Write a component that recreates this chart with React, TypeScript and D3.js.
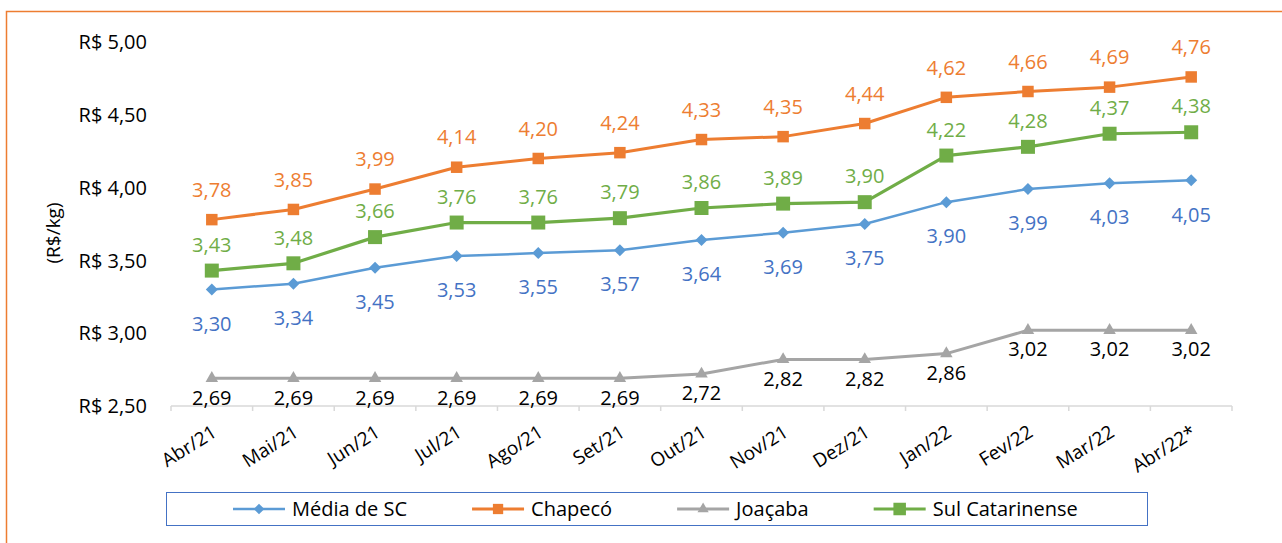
import React, { Component } from 'react'
import * as d3 from 'd3'

const months = ['Abr/21', 'Mai/21', 'Jun/21', 'Jul/21', 'Ago/21', 'Set/21', 'Out/21', 'Nov/21', 'Dez/21', 'Jan/22', 'Fev/22', 'Mar/22', 'Abr/22*']
const mediaSC = [3.30, 3.34, 3.45, 3.53, 3.55, 3.57, 3.64, 3.69, 3.75, 3.90, 3.99, 4.03, 4.05]
const chapeco = [3.78, 3.85, 3.99, 4.14, 4.20, 4.24, 4.33, 4.35, 4.44, 4.62, 4.66, 4.69, 4.76]
const joacaba = [2.69, 2.69, 2.69, 2.69, 2.69, 2.69, 2.72, 2.82, 2.82, 2.86, 3.02, 3.02, 3.02]
const sulCatarinense = [3.43, 3.48, 3.66, 3.76, 3.76, 3.79, 3.86, 3.89, 3.90, 4.22, 4.28, 4.37, 4.38]
const yTicks = [2.5, 3, 3.5, 4, 4.5, 5]

const FONT = "'Open Sans', sans-serif"

// losango "quadrado" como no Excel (o d3.symbolDiamond é mais estreito)
const diamond = {
  draw(ctx: any, size: number) {
    const r = Math.sqrt(size / 2)
    ctx.moveTo(0, -r)
    ctx.lineTo(r, 0)
    ctx.lineTo(0, r)
    ctx.lineTo(-r, 0)
    ctx.closePath()
  }
}

const series = [
  { name: 'Média de SC', values: mediaSC, color: '#5B9BD5', labelColor: '#4472C4', symbol: diamond, size: 72, width: 2.5, labelDy: 34 },
  { name: 'Chapecó', values: chapeco, color: '#ED7D31', labelColor: '#ED7D31', symbol: d3.symbolSquare, size: 132, width: 3, labelDy: -30 },
  { name: 'Joaçaba', values: joacaba, color: '#A5A5A5', labelColor: '#000000', symbol: d3.symbolTriangle, size: 68, width: 3, labelDy: 19 },
  { name: 'Sul Catarinense', values: sulCatarinense, color: '#70AD47', labelColor: '#70AD47', symbol: d3.symbolSquare, size: 196, width: 3.2, labelDy: -26 }
]

const br = d3.formatLocale({ decimal: ',', thousands: '.', grouping: [3], currency: ['R$ ', ''] })
const money = br.format('$.2f')
const num = br.format('.2f')

class App extends Component {
  svgRef = React.createRef<SVGSVGElement>()

  componentDidMount() {
    this.buildChart()
  }

  buildChart() {
    const svg = d3.select(this.svgRef.current)
    svg.selectAll('*').remove()

    // moldura laranja (continua para fora da imagem)
    svg.append('rect')
        .attr('x', 6.5).attr('y', 11.5)
        .attr('width', 1400).attr('height', 700)
        .attr('fill', 'none')
        .attr('stroke', '#ED7D31')
        .attr('stroke-width', 1.5)

    const xScale = d3.scaleBand()
        .domain(months)
        .range([171, 1232])
    const yScale = d3.scaleLinear()
        .domain([2.5, 5])
        .range([406, 42])

    // eixo x
    const axis = svg.append('g')
    axis.append('line')
        .attr('x1', 171).attr('x2', 1232)
        .attr('y1', yScale(2.5)).attr('y2', yScale(2.5))
        .attr('stroke', '#D9D9D9').attr('stroke-width', 1.5)
    const bounds = months.map(m => xScale(m) as number).concat([xScale.range()[1]])
    axis.selectAll('line.tick')
        .data(bounds).enter()
      .append('line')
        .attr('class', 'tick')
        .attr('x1', d => d).attr('x2', d => d)
        .attr('y1', yScale(2.5)).attr('y2', yScale(2.5) + 5)
        .attr('stroke', '#D9D9D9').attr('stroke-width', 1.5)
    axis.selectAll('text')
        .data(months).enter()
      .append('text')
        .attr('transform', m => `translate(${(xScale(m) as number) + xScale.bandwidth() / 2 - 1}, 424) rotate(-32)`)
        .attr('text-anchor', 'end')
        .attr('dy', '0.72em')
        .attr('font-family', FONT)
        .attr('font-size', 19)
        .attr('fill', '#000')
        .text(m => m)

    // rótulos do eixo y
    svg.append('g').selectAll('text')
        .data(yTicks).enter()
      .append('text')
        .attr('x', 147)
        .attr('y', d => yScale(d))
        .attr('dy', '0.36em')
        .attr('text-anchor', 'end')
        .attr('font-family', FONT)
        .attr('font-size', 20)
        .attr('fill', '#000')
        .text(d => money(d))

    svg.append('text')
        .attr('transform', 'translate(53, 233) rotate(-90)')
        .attr('text-anchor', 'middle')
        .attr('dy', '0.36em')
        .attr('font-family', FONT)
        .attr('font-size', 19)
        .attr('fill', '#000')
        .text('(R$/kg)')

    const cx = (i: number) => (xScale(months[i]) as number) + xScale.bandwidth() / 2
    const line = d3.line<number>()
        .x((d, i) => cx(i))
        .y(d => yScale(d))

    series.forEach(s => {
      const g = svg.append('g')
      g.append('path')
          .attr('d', line(s.values))
          .attr('fill', 'none')
          .attr('stroke', s.color)
          .attr('stroke-width', s.width)
          .attr('stroke-linejoin', 'round')
      g.selectAll('path.marker')
          .data(s.values).enter()
        .append('path')
          .attr('class', 'marker')
          .attr('transform', (d, i) => `translate(${cx(i)}, ${yScale(d)})`)
          .attr('d', d3.symbol().type(s.symbol as any).size(s.size)())
          .attr('fill', s.color)
    })

    // rótulos de dados
    series.forEach(s => {
      svg.append('g').selectAll('text')
          .data(s.values).enter()
        .append('text')
          .attr('x', (d, i) => cx(i))
          .attr('y', d => yScale(d) + s.labelDy)
          .attr('dy', '0.36em')
          .attr('text-anchor', 'middle')
          .attr('font-family', FONT)
          .attr('font-size', 20)
          .attr('fill', s.labelColor)
          .text(d => num(d))
    })

    // legenda
    svg.append('rect')
        .attr('x', 166.5).attr('y', 492.5)
        .attr('width', 981).attr('height', 33)
        .attr('fill', 'none')
        .attr('stroke', '#4472C4')
        .attr('stroke-width', 1)
    let lx = 233
    const ly = 509
    series.forEach(s => {
      const item = svg.append('g')
      item.append('line')
          .attr('x1', lx).attr('x2', lx + 52)
          .attr('y1', ly).attr('y2', ly)
          .attr('stroke', s.color)
          .attr('stroke-width', s.width)
      item.append('path')
          .attr('transform', `translate(${lx + 26}, ${ly})`)
          .attr('d', d3.symbol().type(s.symbol as any).size(s.size * 0.8)())
          .attr('fill', s.color)
      const t = item.append('text')
          .attr('x', lx + 59)
          .attr('y', ly)
          .attr('dy', '0.36em')
          .attr('font-family', FONT)
          .attr('font-size', 20)
          .attr('fill', '#000')
          .text(s.name)
      const w = (t.node() as SVGTextElement).getComputedTextLength()
      lx += 59 + w + 65
    })
  }

  render() {
    return (
      <svg ref={this.svgRef} width={1282} height={543}
        style={{ position: 'absolute', left: 0, top: 0, display: 'block', background: '#fff' }} />
    )
  }
}

export default App
